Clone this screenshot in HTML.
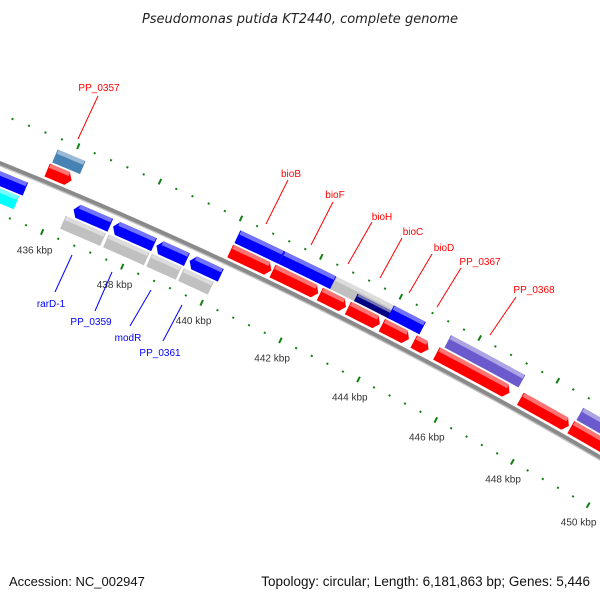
<!DOCTYPE html>
<html><head><meta charset="utf-8"><style>
html,body{margin:0;padding:0;background:#fff;width:600px;height:600px;overflow:hidden;}
svg{display:block;font-family:"Liberation Sans",sans-serif;}
</style></head><body>
<svg id="map" width="600" height="600" viewBox="0 0 600 600" xmlns="http://www.w3.org/2000/svg">
<rect x="0" y="0" width="600" height="600" fill="#fff"/>
<text x="300" y="23" text-anchor="middle" font-size="13" font-style="italic" fill="#222" style="font-family:'DejaVu Sans',sans-serif">Pseudomonas putida KT2440, complete genome</text>
<g id="ticks"></g>
<g id="backbone"></g>
<g id="features"></g>
<g id="labels" font-size="10">
<line x1="78" y1="139" x2="98" y2="96" stroke="#f00"/>
<text x="99" y="91" text-anchor="middle" fill="#f00">PP_0357</text>
<line x1="266" y1="224" x2="288" y2="180" stroke="#f00"/>
<text x="291" y="177" text-anchor="middle" fill="#f00">bioB</text>
<line x1="311" y1="245" x2="333" y2="202" stroke="#f00"/>
<text x="335" y="198" text-anchor="middle" fill="#f00">bioF</text>
<line x1="348" y1="264" x2="372" y2="222" stroke="#f00"/>
<text x="382" y="220" text-anchor="middle" fill="#f00">bioH</text>
<line x1="380" y1="278" x2="402" y2="238" stroke="#f00"/>
<text x="413" y="235" text-anchor="middle" fill="#f00">bioC</text>
<line x1="409" y1="293" x2="432" y2="254" stroke="#f00"/>
<text x="444" y="251" text-anchor="middle" fill="#f00">bioD</text>
<line x1="437" y1="307" x2="461" y2="268" stroke="#f00"/>
<text x="480" y="265" text-anchor="middle" fill="#f00">PP_0367</text>
<line x1="490" y1="335" x2="516" y2="297" stroke="#f00"/>
<text x="534" y="293" text-anchor="middle" fill="#f00">PP_0368</text>
<line x1="72" y1="255" x2="55" y2="292" stroke="#00f"/>
<text x="51" y="307" text-anchor="middle" fill="#00f">rarD-1</text>
<line x1="112" y1="272" x2="95" y2="311" stroke="#00f"/>
<text x="91" y="325" text-anchor="middle" fill="#00f">PP_0359</text>
<line x1="151" y1="290" x2="130" y2="326" stroke="#00f"/>
<text x="128" y="341" text-anchor="middle" fill="#00f">modR</text>
<line x1="182" y1="305" x2="163" y2="341" stroke="#00f"/>
<text x="160" y="356" text-anchor="middle" fill="#00f">PP_0361</text>
</g>
<text x="9" y="586" font-size="13" fill="#111">Accession: NC_002947</text>
<text x="590" y="586" text-anchor="end" font-size="13.5" fill="#111">Topology: circular; Length: 6,181,863 bp; Genes: 5,446</text>
</svg>
<script>
// feature data (kbp)
var featStart = [433.0, 435.56, 440.09, 441.15, 442.34, 443.05, 443.91, 444.72, 445.3, 447.46, 448.77,
                 435.6, 440.1, 441.2, 442.5, 443.1, 443.95, 445.4, 448.8,
                 433.0, 436.46, 437.44, 438.52, 439.35,
                 433.0, 436.35, 437.42, 438.5, 439.3];
var featEnd   = [433.0, 436.16, 441.12, 442.3, 443.0, 443.86, 444.6, 445.1, 447.18, 448.72, 451.5,
                 436.28, 441.2, 442.5, 444.0, 444.0, 444.76, 447.3, 451.5,
                 435.27, 437.37, 438.46, 439.28, 440.13,
                 435.2, 437.35, 438.44, 439.24, 440.05];
var featRing  = ["A","A","A","A","A","A","A","A","A","A","A",
                 "B","B","B","B","N","B","B","B",
                 "R1","R1","R1","R1","R1",
                 "R2","R2","R2","R2","R2"];
var featColor = ["#ff0000","#ff0000","#ff0000","#ff0000","#ff0000","#ff0000","#ff0000","#ff0000","#ff0000","#ff0000","#ff0000",
                 "#4682b4","#0000ff","#0000ff","#c0c0c0","#000080","#0000ff","#6a5acd","#6a5acd",
                 "#0000ff","#0000ff","#0000ff","#0000ff","#0000ff",
                 "#00ffff","#c0c0c0","#c0c0c0","#c0c0c0","#c0c0c0"];
var featArrow = [0,1,1,1,1,1,1,1,1,1,1, 0,0,0,0,0,0,0,0, 0,1,1,1,1, 0,0,0,0,0];
var tickLabels = ["436 kbp","438 kbp","440 kbp","442 kbp","444 kbp","446 kbp","448 kbp","450 kbp"];
var tickValues = [436,438,440,442,444,446,448,450];

var CX=-1800, CY=4595, RB=4783;
var rings={A:[5,19],B:[21,35],N:[21,29],R1:[-21,-7],R2:[-37,-23]};
function ang(p){return (22.89+(p-436)*0.528)*Math.PI/180;}
function pt(p,r){var a=ang(p);return [CX+r*Math.sin(a),CY-r*Math.cos(a)];}
function f(q){return q[0].toFixed(2)+","+q[1].toFixed(2);}
var NS="http://www.w3.org/2000/svg";
var G=document.getElementById("features"),T=document.getElementById("ticks"),BB=document.getElementById("backbone");

// backbone
var d="";for(var p=430;p<=456;p+=0.5){d+=(p==430?"M":"L")+f(pt(p,RB));}
var bk=document.createElementNS(NS,"path");bk.setAttribute("d",d);bk.setAttribute("fill","none");bk.setAttribute("stroke","#8a8a8a");bk.setAttribute("stroke-width","5");


BB.appendChild(bk);
var d2="";for(var p=430;p<=456;p+=0.5){d2+=(p==430?"M":"L")+f(pt(p,RB-2));}
var bk2=document.createElementNS(NS,"path");bk2.setAttribute("d",d2);bk2.setAttribute("fill","none");bk2.setAttribute("stroke","#c4c4c4");bk2.setAttribute("stroke-width","1.2");


BB.appendChild(bk2);

function shade(c){
  var r=parseInt(c.substr(1,2),16),g=parseInt(c.substr(3,2),16),b=parseInt(c.substr(5,2),16);
  r=Math.round(r+(255-r)*0.45);g=Math.round(g+(255-g)*0.45);b=Math.round(b+(255-b)*0.45);
  return "rgb("+r+","+g+","+b+")";
}
function featPath(s,e,ri,ro,arrow){
  var h=0.11, pts=[], n=6, i;
  var rm=(ri+ro)/2;
  if(arrow==1){
    for(i=0;i<=n;i++)pts.push(pt(s+(e-h-s)*i/n,ro));
    pts.push(pt(e,rm));
    for(i=n;i>=0;i--)pts.push(pt(s+(e-h-s)*i/n,ri));
  } else {
    for(i=0;i<=n;i++)pts.push(pt(s+(e-s)*i/n,ro));
    for(i=n;i>=0;i--)pts.push(pt(s+(e-s)*i/n,ri));
  }
  return "M"+pts.map(f).join("L")+"Z";
}
for(var k=0;k<featStart.length;k++){
  var rg=rings[featRing[k]], s=featStart[k], e=featEnd[k];
  var ar=featArrow[k];
  var ri=RB+rg[0], ro=RB+rg[1];
  var isRev=featRing[k].charAt(0)=="R";
  var pa=document.createElementNS(NS,"path");
  if(ar==1 && isRev){
    var h=0.11,pts=[],n=6,i,rm=(ri+ro)/2;
    pts.push(pt(s,rm));
    for(i=0;i<=n;i++)pts.push(pt(s+h+(e-s-h)*i/n,ro));
    for(i=n;i>=0;i--)pts.push(pt(s+h+(e-s-h)*i/n,ri));
    pa.setAttribute("d","M"+pts.map(f).join("L")+"Z");
  } else pa.setAttribute("d",featPath(s,e,ri,ro,ar));
  pa.setAttribute("fill",featColor[k]);
  
  
  G.appendChild(pa);
  var hi=document.createElementNS(NS,"path");
  var rr=ro-(ro-ri)*0.3;
  var hs=(ar==1&&isRev)?s+0.1:s+0.02, he=(ar==1&&!isRev)?e-0.1:e-0.02;
  hi.setAttribute("d",featPath(hs,he,rr,ro,0));
  hi.setAttribute("fill",shade(featColor[k]));
  
  
  G.appendChild(hi);
}

// ticks
var ROUT=4829, RIN=4736;
for(var q=0;q<=70;q++){
  var p=430+q*0.4;
  var major=(q%5==0);
  [ROUT,RIN].forEach(function(r){
    var a=pt(p,r-(major?3:1)),b=pt(p,r+(major?3:1));
    var ln=document.createElementNS(NS,"line");
    ln.setAttribute("x1",a[0].toFixed(2));ln.setAttribute("y1",a[1].toFixed(2));
    ln.setAttribute("x2",b[0].toFixed(2));ln.setAttribute("y2",b[1].toFixed(2));
    ln.setAttribute("stroke","#108010");ln.setAttribute("stroke-width","2");
    
    
    T.appendChild(ln);
  });
}
for(var j=0;j<tickValues.length;j++){
  var c=pt(tickValues[j],4717);
  var tx=document.createElementNS(NS,"text");
  tx.setAttribute("x",c[0].toFixed(1));tx.setAttribute("y",(c[1]+4).toFixed(1));
  tx.setAttribute("text-anchor","middle");tx.setAttribute("font-size","10");tx.setAttribute("fill","#333");
  tx.textContent=tickLabels[j];
  
  
  T.appendChild(tx);
}
</script>
</body></html>
